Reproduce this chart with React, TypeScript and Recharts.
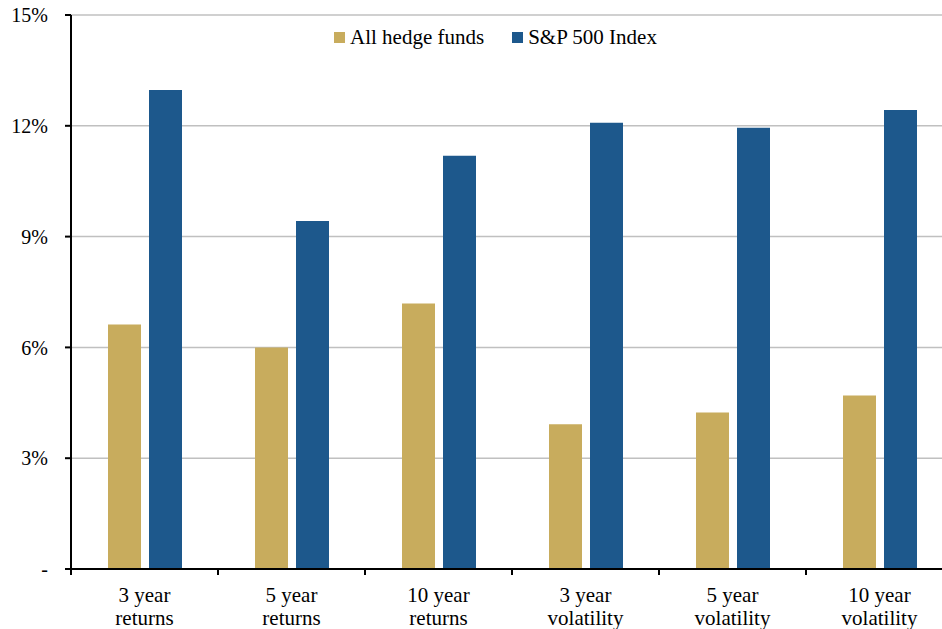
import { BarChart, Bar, XAxis, YAxis, CartesianGrid, Legend } from 'recharts'

const categories = ['3 year returns', '5 year returns', '10 year returns', '3 year volatility', '5 year volatility', '10 year volatility']
const hedgeFunds = [6.62, 6.0, 7.19, 3.92, 4.24, 4.7]
const sp500 = [12.97, 9.42, 11.19, 12.08, 11.95, 12.43]
const yTicks = [0, 3, 6, 9, 12, 15]

const GOLD = '#c8ac5d'
const BLUE = '#1d588c'
const FONT = '"Liberation Serif", "Times New Roman", serif'

const data = categories.map((name, i) => ({
  name,
  hedge: hedgeFunds[i],
  sp: sp500[i],
}))

const series = [
  { key: 'hedge', label: 'All hedge funds', color: GOLD },
  { key: 'sp', label: 'S&P 500 Index', color: BLUE },
]

function XTick(props: any) {
  const { x, y, payload, index } = props
  const [first, ...rest] = String(payload.value).split(' ')
  // two line label: "3 year" / "returns"
  const line1 = first + ' ' + rest[0]
  const line2 = rest.slice(1).join(' ')
  const half = payload.offset || 0
  return (
    <g>
      <line x1={x - half} x2={x - half} y1={y} y2={y + 6} stroke="#000" strokeWidth={2} />
      {index === categories.length - 1 && (
        <line x1={x + half} x2={x + half} y1={y} y2={y + 6} stroke="#000" strokeWidth={2} />
      )}
      <text x={x} y={y + 33} textAnchor="middle" fontSize={21} fontFamily={FONT} fill="#000">
        {line1}
      </text>
      <text x={x} y={y + 56} textAnchor="middle" fontSize={21} fontFamily={FONT} fill="#000">
        {line2}
      </text>
    </g>
  )
}

function LegendContent() {
  return (
    <div style={{ display: 'flex', alignItems: 'center', gap: 28, fontFamily: FONT, fontSize: 21, color: '#000' }}>
      {series.map((s) => (
        <span key={s.key} style={{ display: 'flex', alignItems: 'center', gap: 5 }}>
          <span style={{ width: 11, height: 11, background: s.color, display: 'inline-block' }} />
          {s.label}
        </span>
      ))}
    </div>
  )
}

export default function App() {
  return (
    <div style={{ position: 'fixed', left: 0, top: 0, width: 942, height: 629, overflow: 'hidden', background: '#fff' }}>
      <BarChart
        width={960}
        height={629}
        data={data}
        margin={{ top: 15, right: 7, left: 0, bottom: 0 }}
        barSize={33}
        barGap={8}
      >
        <CartesianGrid vertical={false} stroke="#c0c0c0" strokeWidth={1.5} />
        <XAxis
          dataKey="name"
          height={60}
          tickLine={false}
          tickSize={0}
          tickMargin={0}
          axisLine={{ stroke: '#000', strokeWidth: 2 }}
          tick={<XTick />}
          interval={0}
        />
        <YAxis
          width={71}
          domain={[0, 15]}
          ticks={yTicks}
          tickSize={6}
          tickMargin={17}
          axisLine={{ stroke: '#000', strokeWidth: 2 }}
          tickLine={{ stroke: '#000', strokeWidth: 2 }}
          tick={{ fill: '#000', fontSize: 20, fontFamily: FONT }}
          tickFormatter={(v: number) => (v === 0 ? '-' : `${v}%`)}
        />
        <Legend
          layout="horizontal"
          verticalAlign="middle"
          align="center"
          content={<LegendContent />}
          wrapperStyle={{ top: 25, left: 334, width: 'auto' }}
        />
        {series.map((s) => (
          <Bar key={s.key} dataKey={s.key} name={s.label} fill={s.color} isAnimationActive={false} />
        ))}
      </BarChart>
    </div>
  )
}
